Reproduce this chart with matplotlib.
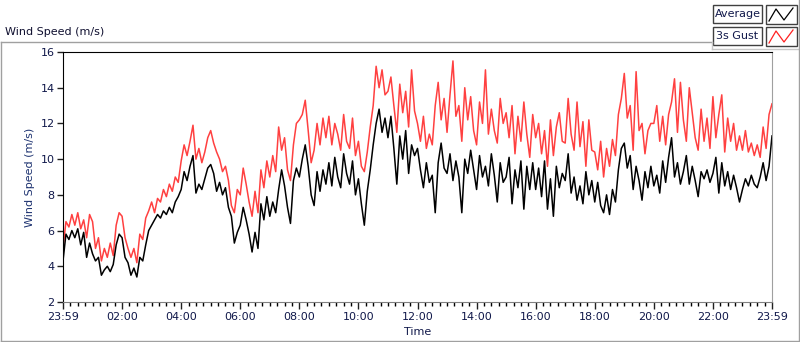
import numpy as np
import matplotlib.pyplot as plt
from matplotlib.patches import Rectangle
from matplotlib.lines import Line2D

# 6-minute samples, 23:59 -> 23:59
average = [
    4.3, 5.8, 5.5, 6.0, 5.6, 6.1, 5.2, 5.9, 4.5, 5.3,
    4.7, 4.3, 4.5, 3.5, 3.8, 4.0, 3.7, 4.1, 5.2, 5.8,
    5.6, 4.5, 4.2, 3.5, 3.9, 3.4, 4.5, 4.3, 5.2, 6.0,
    6.3, 6.6, 6.9, 6.7, 7.1, 6.9, 7.3, 7.0, 7.6, 7.9,
    8.3, 9.3, 8.8, 9.6, 10.2, 8.1, 8.6, 8.3, 8.9, 9.5,
    9.7, 9.2, 8.2, 8.7, 8.0, 8.4, 7.3, 6.8, 5.3, 5.9,
    6.3, 7.3, 6.6, 5.8, 4.8, 5.9, 5.0, 7.5, 6.6, 7.9,
    6.8, 7.6, 7.0, 8.3, 9.4, 8.5, 7.3, 6.4, 8.8, 9.5,
    9.0, 10.0, 10.8, 9.6, 8.0, 7.4, 9.3, 8.2, 9.4, 8.6,
    9.8, 8.5, 10.1, 9.0, 8.4, 10.3, 9.2, 8.6, 9.9, 8.0,
    8.9, 7.5, 6.3, 8.2, 9.4, 10.8, 12.0, 12.8, 11.5, 12.3,
    11.2, 12.4, 10.6, 8.6, 11.3, 10.0, 11.6, 9.2, 10.8, 10.2,
    10.6, 9.4, 8.4, 9.8, 8.7, 9.1, 7.0, 9.8, 10.9, 9.5,
    9.2, 10.3, 8.8, 9.9, 9.0, 7.0, 10.0, 9.2, 10.5, 9.4,
    8.3, 10.2, 9.0, 9.6, 8.5, 10.3, 9.1, 7.6, 9.8, 8.7,
    9.0, 10.1, 7.5, 9.4, 8.4, 9.9, 7.2, 9.6, 8.3, 9.8,
    8.3, 9.5, 7.9, 9.9, 7.2, 8.9, 6.8, 9.6, 8.4, 9.2,
    8.8, 10.3, 8.1, 9.0, 7.7, 8.5, 7.5, 9.3, 8.0, 8.8,
    7.6, 8.7, 7.4, 7.0, 8.0, 6.9, 8.3, 7.6, 9.4, 10.6,
    10.9, 9.5, 10.2, 8.3, 9.6, 8.8, 7.7, 9.3, 8.4, 9.6,
    8.5, 9.1, 8.1, 9.9, 8.7, 10.1, 11.2, 9.0, 9.8, 8.6,
    9.3, 10.2, 8.6, 9.6, 8.8, 7.9, 9.3, 8.9, 9.4, 8.7,
    9.2, 10.1, 8.1, 9.8, 8.5, 9.3, 8.3, 9.1, 8.4, 7.6,
    8.3, 8.9, 8.5, 9.1, 8.6, 8.4, 9.0, 9.8, 8.8, 9.6, 11.3,
]

gust = [
    5.0, 6.5, 6.2, 6.9, 6.3, 7.0, 6.1, 6.6, 5.6, 6.9,
    6.5, 5.0, 5.6, 4.3, 5.0, 4.5, 5.3, 4.6, 6.3, 7.0,
    6.8, 5.6, 5.0, 4.5, 5.0, 4.2, 5.8, 5.5, 6.7, 7.1,
    7.6, 7.0, 7.8, 7.6, 8.3, 7.9, 8.6, 8.2, 9.0, 8.7,
    9.9, 10.8, 10.2, 11.0, 11.9, 10.0, 10.6, 9.8, 10.4, 11.2,
    11.6, 10.9, 10.4, 10.0, 9.3, 9.6, 8.8, 7.4, 7.0, 8.3,
    8.0, 9.5, 8.6, 7.6, 6.8, 8.2, 7.0, 9.4, 8.4, 9.9,
    9.0, 10.2, 9.3, 11.8, 10.5, 11.2, 9.4, 8.8, 10.8, 12.0,
    12.2, 12.5, 13.3, 11.6, 9.8, 10.5, 12.0, 10.8, 12.3, 11.2,
    12.4, 10.8, 12.0, 11.4, 10.5, 12.5, 11.0, 10.6, 12.3, 10.2,
    11.0, 9.6, 9.3, 10.4, 11.8, 13.0, 15.2, 14.0, 15.0, 13.6,
    13.8, 14.6, 13.0, 11.5, 14.2, 12.6, 13.8, 11.8, 15.0, 12.7,
    12.0, 11.0, 12.4, 10.6, 11.4, 10.8, 13.0, 14.3, 12.2, 13.4,
    11.5, 13.6, 15.5, 12.4, 13.0, 11.0, 14.0, 12.2, 13.5, 11.6,
    10.8, 13.2, 12.0, 15.0, 11.4, 12.8, 11.6, 10.9, 13.4, 12.0,
    12.6, 11.2, 13.0, 10.3, 12.4, 11.0, 13.2, 11.4, 10.1, 12.5,
    11.2, 12.0, 10.3, 11.6, 9.6, 12.2, 10.2, 11.8, 12.6, 11.0,
    10.9, 13.4, 11.4, 10.5, 13.2, 10.7, 12.1, 9.6, 12.2, 10.5,
    10.4, 9.4, 11.0, 9.0, 10.6, 9.6, 11.1, 10.2, 12.5, 13.4,
    14.8, 12.3, 13.0, 10.5, 14.9, 11.6, 12.0, 10.3, 11.6, 12.0,
    12.0, 13.0, 11.0, 12.4, 10.8, 12.5, 13.2, 14.5, 11.5, 14.3,
    12.2, 11.0, 14.0, 12.6, 11.2, 10.5, 12.8, 11.0, 12.3, 10.6,
    13.5, 11.2, 12.5, 13.6, 10.4, 12.3, 11.0, 12.0, 10.5, 11.3,
    10.5, 11.6, 10.4, 10.9, 10.2, 10.8, 10.1, 11.8, 10.6, 12.5, 13.1,
]

hours = np.arange(len(average)) * 0.1   # hours after 23:59
tick_hours = [0, 2, 4, 6, 8, 10, 12, 14, 16, 18, 20, 22, 24]
tick_labels = ['23:59', '02:00', '04:00', '06:00', '08:00', '10:00', '12:00',
               '14:00', '16:00', '18:00', '20:00', '22:00', '23:59']
y_ticks = [2, 4, 6, 8, 10, 12, 14, 16]

W, H = 800, 342
def fx(x):
    return x / W
def fy(y):
    return 1 - y / H

navy = '#10184a'
grey = '#a0a0a0'

fig = plt.figure(figsize=(8, 3.42), dpi=100)
ax = fig.add_axes([fx(63), fy(302), (772 - 63) / W, (302 - 52) / H])

ax.plot(hours, gust, color='#ff4040', lw=1.1)
ax.plot(hours, average, color='black', lw=1.1)

ax.set_xlim(0, 24)
ax.set_ylim(2, 16)
ax.set_xticks(tick_hours)
ax.set_xticklabels(tick_labels)
ax.set_xticks(np.arange(0, 24.01, 0.25), minor=True)
ax.set_yticks(y_ticks)
ax.tick_params(axis='both', labelsize=8, labelcolor=navy, color='#202020', pad=2)
ax.tick_params(axis='x', which='major', length=5, width=1)
ax.tick_params(axis='x', which='minor', length=3, width=1)
ax.tick_params(axis='y', length=4, width=1)

ax.spines['top'].set_color('black')
ax.spines['left'].set_color('black')
ax.spines['right'].set_color(grey)
ax.spines['bottom'].set_color('#808080')

ax.set_xlabel('Time', fontsize=8, color=navy, labelpad=4)
ax.set_ylabel('Wind Speed (m/s)', fontsize=8, color='#1d3270', labelpad=4)

fig.text(fx(5), fy(32), 'Wind Speed (m/s)', fontsize=8, color='#101030', va='center', ha='left')

# outer frame
for (x0, y0, x1, y1, c) in [(1, 42, 712, 42, grey), (712, 42, 712, 49, '#c8c8c8'),
                            (712, 49, 799, 49, '#c8c8c8'), (799, 0, 799, 341, grey),
                            (1, 42, 1, 341, grey), (1, 341, 799, 341, grey)]:
    fig.add_artist(Line2D([fx(x0), fx(x1)], [fy(y0), fy(y1)], color=c, lw=1))

# legend
for name, col, top in [('Average', 'black', 5), ('3s Gust', '#ff2020', 27)]:
    fig.add_artist(Rectangle((fx(713), fy(top + 18)), 49 / W, 18 / H,
                             facecolor='white', edgecolor='#404040', lw=1))
    fig.text(fx(737.5), fy(top + 9), name, fontsize=8, color=navy, ha='center', va='center')
    fig.add_artist(Rectangle((fx(766), fy(top + 19)), 31 / W, 19 / H,
                             facecolor='white', edgecolor='#404040', lw=1))
    zx = [769, 776, 784, 793]
    zy = [top + 16, top + 4, top + 15, top + 3]
    fig.add_artist(Line2D([fx(v) for v in zx], [fy(v) for v in zy], color=col, lw=0.9))

fig.savefig('out.png', dpi=100)
